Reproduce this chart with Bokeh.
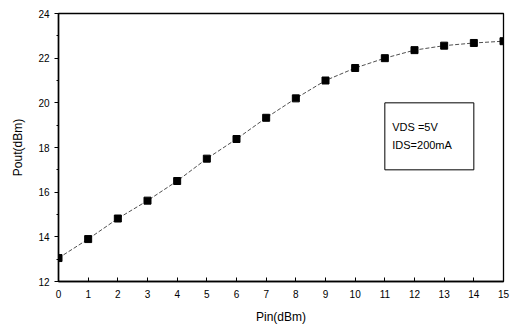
from bokeh.plotting import figure
from bokeh.models import BoxAnnotation, Label, Range1d, FixedTicker
from bokeh.embed import file_html
from bokeh.resources import INLINE

pin = [0, 1, 2, 3, 4, 5, 6, 7, 8, 9, 10, 11, 12, 13, 14, 15]
pout = [13.05, 13.9, 14.82, 15.62, 16.5, 17.5, 18.38, 19.33, 20.2, 21.0, 21.56, 22.0, 22.36, 22.56, 22.68, 22.76]
x_ticks = list(range(0, 16))
y_ticks = [12, 14, 16, 18, 20, 22, 24]
y_minor = [13, 15, 17, 19, 21, 23]

FONT = "Liberation Sans"

p = figure(width=513, height=326, output_backend="svg", toolbar_location=None,
           x_range=Range1d(0, 15), y_range=Range1d(12, 24),
           min_border_left=58, min_border_right=10, min_border_top=13, min_border_bottom=36)
p.grid.visible = False
p.outline_line_color = "black"
p.outline_line_width = 1.3
p.outline_line_alpha = 1.0
p.background_fill_color = "white"

p.line(pin, pout, line_color="#222222", line_width=0.8, line_dash="4 2")
p.scatter(pin, pout, marker="square", size=7, fill_color="black", line_color="black")

p.xaxis.ticker = FixedTicker(ticks=x_ticks)
p.yaxis.ticker = FixedTicker(ticks=y_ticks, minor_ticks=y_minor)
for ax in (p.xaxis[0], p.yaxis[0]):
    ax.axis_line_color = "black"
    ax.axis_line_width = 1.5
    ax.major_tick_line_color = "black"
    ax.minor_tick_line_color = "black"
    ax.major_label_text_font = FONT
    ax.major_label_text_font_size = "10px"
    ax.major_label_text_color = "black"
    ax.axis_label_text_font = FONT
    ax.axis_label_text_font_style = "normal"
    ax.axis_label_text_font_size = "12px"
    ax.axis_label_text_color = "black"

p.xaxis.major_tick_in = 4
p.xaxis.major_tick_out = 0
p.xaxis.minor_tick_out = 0
p.xaxis.minor_tick_in = 0
p.yaxis.major_tick_in = 0
p.yaxis.major_tick_out = 4
p.yaxis.minor_tick_in = 0
p.yaxis.minor_tick_out = 2
p.xaxis.major_label_standoff = 8
p.yaxis.major_label_standoff = 5
p.xaxis.axis_label = "Pin(dBm)"
p.yaxis.axis_label = "Pout(dBm)"
p.xaxis.axis_label_standoff = 9
p.yaxis.axis_label_standoff = 10

box = BoxAnnotation(left=11, right=14, bottom=17, top=20, fill_alpha=0,
                    line_color="black", line_alpha=1.0, line_width=1)
p.add_layout(box)
p.add_layout(Label(x=11.25, y=18.9, text="VDS =5V", text_font=FONT,
                   text_font_size="11px", text_baseline="middle", text_color="black"))
p.add_layout(Label(x=11.25, y=18.1, text="IDS=200mA", text_font=FONT,
                   text_font_size="11px", text_baseline="middle", text_color="black"))

open("out.html", "w").write(file_html(p, INLINE))
